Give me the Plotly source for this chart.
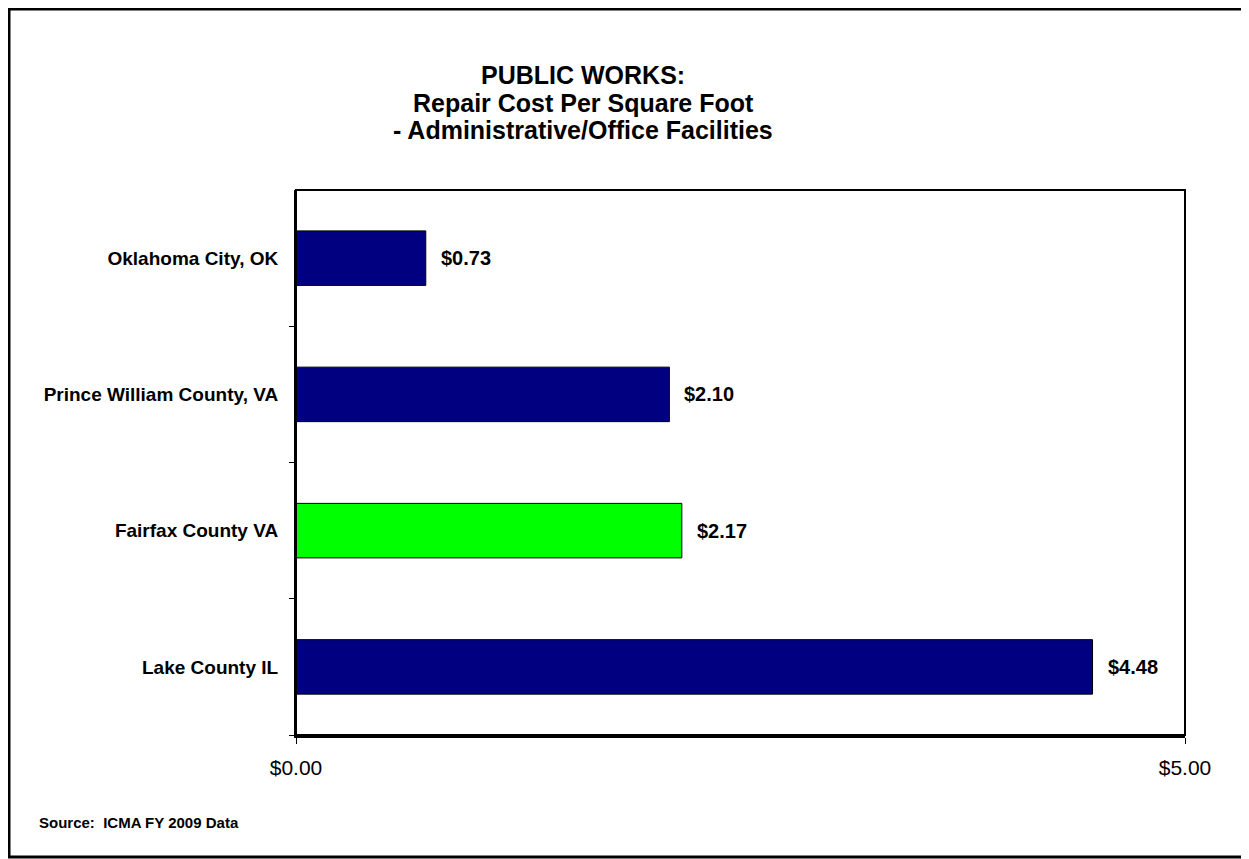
import plotly.graph_objects as go

categories = ["Oklahoma City, OK", "Prince William County, VA", "Fairfax County VA", "Lake County IL"]
values = [0.73, 2.10, 2.17, 4.48]
colors = ["#000080", "#000080", "#00FF00", "#000080"]
x_ticks = [0, 5]
x_tick_labels = ["$0.00", "$5.00"]
title_lines = ["PUBLIC WORKS:", "Repair Cost Per Square Foot", "- Administrative/Office Facilities"]
source_text = "Source:  ICMA FY 2009 Data"

# figure coordinates (page is offset by 8px body margin)
W, H = 1241, 851
L, R, T, B = 288, 1177, 182, 727
pw, ph = R - L, B - T
FONT = "Liberation Sans, Arial, sans-serif"

def px(x):
    return (x - L) / pw

def py(y):
    return (B - y) / ph

fig = go.Figure()
fig.add_trace(go.Bar(
    x=values, y=categories, orientation="h",
    marker=dict(color=colors, line=dict(color="black", width=1)),
    width=0.4, hoverinfo="skip", showlegend=False,
))

for c, v in zip(categories, values):
    fig.add_annotation(x=v, y=c, xref="x", yref="y", text=f"<b>${v:.2f}</b>",
                       showarrow=False, xanchor="left", xshift=13,
                       font=dict(family=FONT, size=20, color="black"))

fig.add_shape(type="rect", xref="paper", yref="paper",
              x0=px(1), x1=px(1239), y0=py(849), y1=py(1),
              line=dict(color="black", width=3), layer="below")

for line, yy in zip(title_lines, [67, 95, 122]):
    fig.add_annotation(xref="paper", yref="paper", x=px(575), y=py(yy), xanchor="center", yanchor="middle",
                       text=f"<b>{line}</b>", showarrow=False,
                       font=dict(family=FONT, size=25, color="black"))

fig.add_annotation(xref="paper", yref="paper", x=px(29), y=py(814), xanchor="left", yanchor="middle",
                   text=f"<b>{source_text}</b>", showarrow=False,
                   font=dict(family=FONT, size=15, color="black"))

fig.update_layout(
    width=W, height=H,
    margin=dict(l=L, r=W - R, t=T, b=H - B, pad=0),
    paper_bgcolor="white", plot_bgcolor="white",
)
fig.update_xaxes(range=[0, 5], tickvals=x_ticks, ticktext=x_tick_labels,
                 showgrid=False, zeroline=False, showline=True, linecolor="black", linewidth=3,
                 ticks="outside", ticklen=6, tickcolor="black", tickwidth=1,
                 tickfont=dict(family=FONT, size=21, color="black"),
                 ticklabelstandoff=6, fixedrange=True)
fig.update_yaxes(categoryorder="array", categoryarray=categories[::-1],
                 tickson="boundaries", showgrid=False, zeroline=False, showline=True,
                 linecolor="black", linewidth=2, ticks="outside", ticklen=5, tickcolor="black",
                 tickfont=dict(family=FONT, size=19, color="black"),
                 ticklabelstandoff=12, fixedrange=True,
                 tickmode="array", tickvals=categories,
                 ticktext=[f"<b>{c}</b>" for c in categories])
# plot box
fig.add_shape(type="rect", xref="paper", yref="paper", x0=0, x1=1, y0=0, y1=1,
              line=dict(color="black", width=2))

fig.write_html("out.html")
